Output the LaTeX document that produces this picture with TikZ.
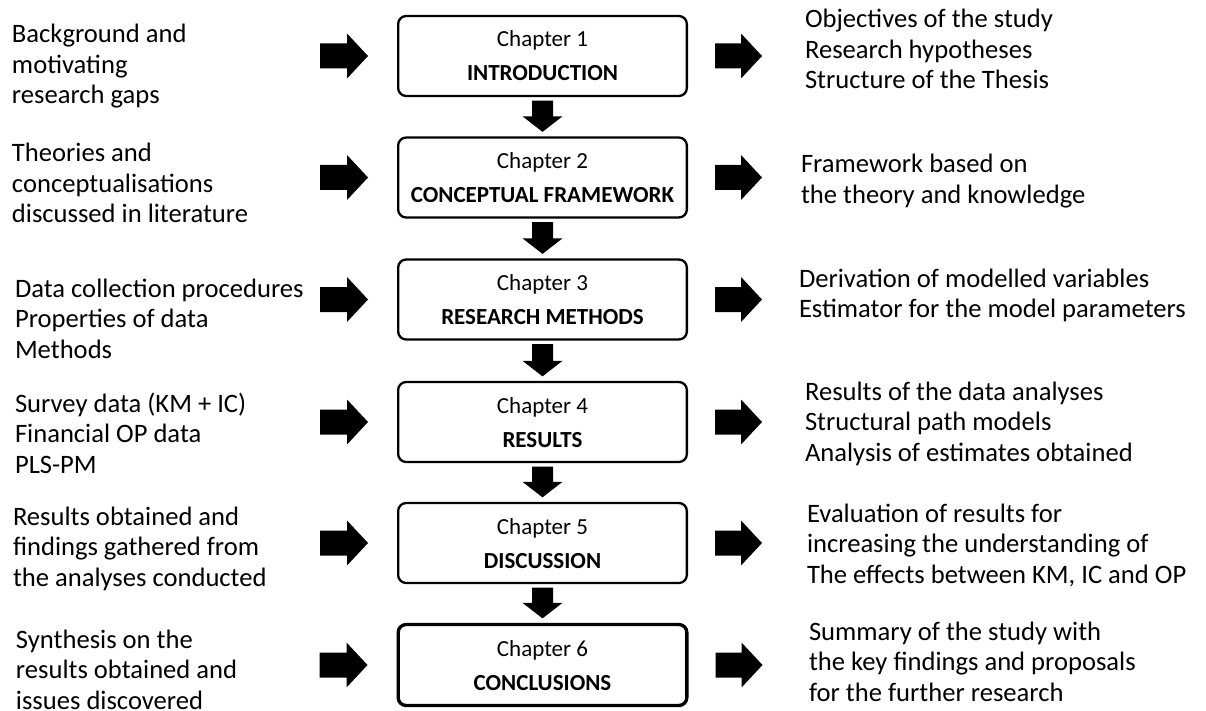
\documentclass[tikz,border=0pt]{standalone}
\usepackage{fontspec}
\setmainfont{Carlito}
\usetikzlibrary{calc}
\newcommand\fst{\rule{0pt}{23pt}}
\newcommand\bst{\rule[-4pt]{0pt}{24pt}}
\tikzset{
  side/.style={anchor=north west, inner sep=0pt, outer sep=0pt, align=left,
    font=\fontsize{26.6}{30.5}\selectfont},
  chap/.style={draw=black, line width=2.3pt, rounded corners=8pt,
    minimum width=288.7pt, minimum height=80pt, inner sep=0pt, align=center,
    font=\fontsize{23}{34}\selectfont},
  lastchap/.style={chap, line width=3.3pt, minimum height=81pt},
  blockarrow/.style={fill=black, draw=none},
}
\newcommand\downarr[2]{%
  \fill[blockarrow] ($(#1.south)+(-10.5,-3.5)$) -- ($(#1.south)+(10.5,-3.5)$)
    -- ($(#2.north)+(10.5,20)$) -- ($(#2.north)+(20,20)$) -- ($(#2.north)+(0,4.5)$)
    -- ($(#2.north)+(-20,20)$) -- ($(#2.north)+(-10.5,20)$) -- cycle;}
\newcommand\inarr[1]{%
  \fill[blockarrow] ($(#1.west)+(-77,12.5)$) -- ($(#1.west)+(-50,12.5)$)
    -- ($(#1.west)+(-50,22.5)$) -- ($(#1.west)+(-29,0)$) -- ($(#1.west)+(-50,-22.5)$)
    -- ($(#1.west)+(-50,-12.5)$) -- ($(#1.west)+(-77,-12.5)$) -- cycle;}
\newcommand\outarr[1]{%
  \fill[blockarrow] ($(#1.east)+(27,12.5)$) -- ($(#1.east)+(53,12.5)$)
    -- ($(#1.east)+(53,22.5)$) -- ($(#1.east)+(74,0)$) -- ($(#1.east)+(53,-22.5)$)
    -- ($(#1.east)+(53,-12.5)$) -- ($(#1.east)+(27,-12.5)$) -- cycle;}
\begin{document}
\begin{tikzpicture}[x=1pt, y=1pt]
\useasboundingbox (0,0) rectangle (1206,-711);
\fill[white] (0,0) rectangle (1206,-711);

% chapter boxes
\node[chap] (c1) at (542.5,-56) {\bst Chapter 1\\\bst\textbf{INTRODUCTION}};
\node[chap] (c2) at (542.5,-177.5) {\bst Chapter 2\\\bst\textbf{CONCEPTUAL FRAMEWORK}};
\node[chap] (c3) at (542.5,-299.5) {\bst Chapter 3\\\bst\textbf{RESEARCH METHODS}};
\node[chap] (c4) at (542.5,-422) {\bst Chapter 4\\\bst\textbf{RESULTS}};
\node[chap] (c5) at (542.5,-543) {\bst Chapter 5\\\bst\textbf{DISCUSSION}};
\node[lastchap] (c6) at (542.5,-665) {\bst Chapter 6\\\bst\textbf{CONCLUSIONS}};

% left texts
\node[side] (l1) at (12,-20) {\fst Background and\\motivating\\research gaps};
\node[side] (l2) at (12,-139) {\fst Theories and\\conceptualisations\\discussed in literature};
\node[side] (l3) at (15,-274) {\fst Data collection procedures\\Properties of data\\Methods};
\node[side] (l4) at (15,-389) {\fst Survey data (KM + IC)\\Financial OP data\\PLS-PM};
\node[side] (l5) at (13,-502) {\fst Results obtained and\\findings gathered from\\the analyses conducted};
\node[side] (l6) at (16,-625) {\fst Synthesis on the\\results obtained and\\issues discovered};

% right texts
\node[side] (r1) at (805,-5) {\fst Objectives of the study\\Research hypotheses\\Structure of the Thesis};
\node[side] (r2) at (801,-150) {\fst Framework based on\\the theory and knowledge};
\node[side] (r3) at (799,-264) {\fst Derivation of modelled variables\\Estimator for the model parameters};
\node[side] (r4) at (805,-377) {\fst Results of the data analyses\\Structural path models\\Analysis of estimates obtained};
\node[side] (r5) at (807,-499) {\fst Evaluation of results for\\increasing the understanding of\\The effects between KM, IC and OP};
\node[side] (r6) at (809,-617) {\fst Summary of the study with\\the key findings and proposals\\for the further research};

% down arrows
\downarr{c1}{c2}
\downarr{c2}{c3}
\downarr{c3}{c4}
\downarr{c4}{c5}
\downarr{c5}{c6}

% side arrows
\inarr{c1}\inarr{c2}\inarr{c3}\inarr{c4}\inarr{c5}\inarr{c6}
\outarr{c1}\outarr{c2}\outarr{c3}\outarr{c4}\outarr{c5}\outarr{c6}
\end{tikzpicture}
\end{document}
